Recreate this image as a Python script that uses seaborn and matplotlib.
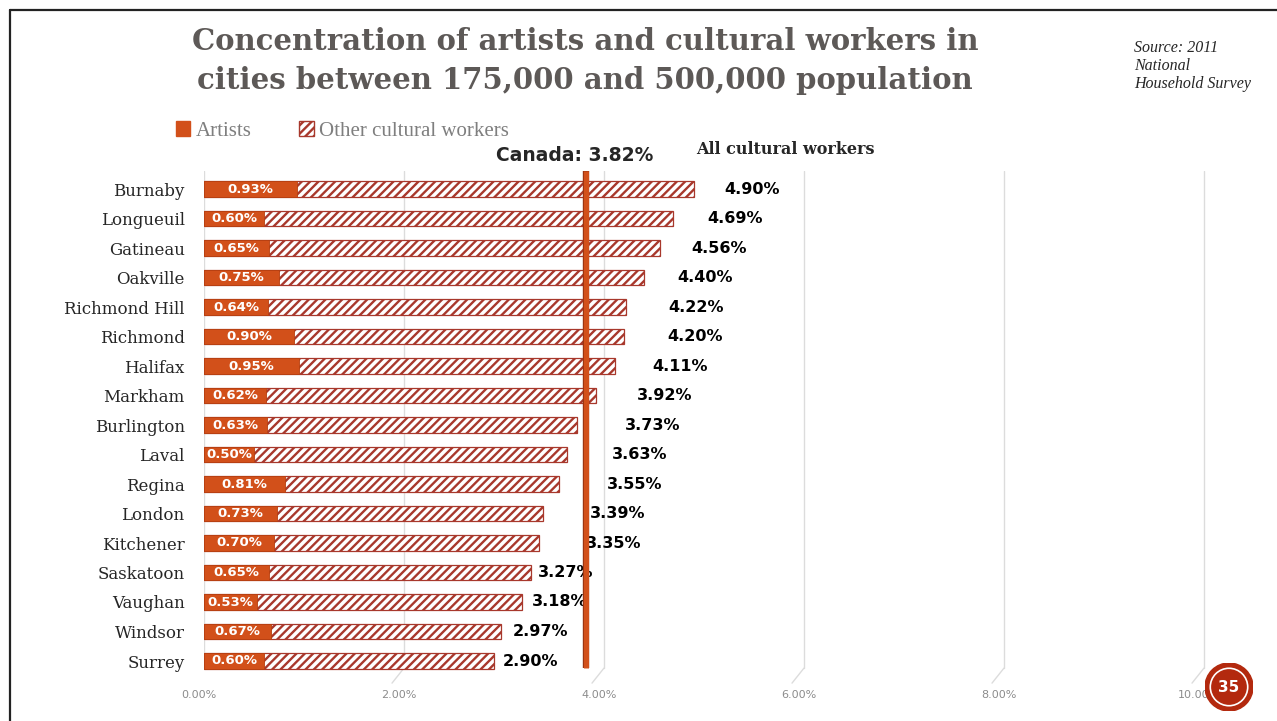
import matplotlib
matplotlib.use("Agg")
import matplotlib.pyplot as plt
import matplotlib.patheffects as pe
from matplotlib.patches import Patch, Circle
from matplotlib.lines import Line2D
from matplotlib.transforms import ScaledTranslation
import pandas as pd
import seaborn as sns

# data
cities = ["Burnaby", "Longueuil", "Gatineau", "Oakville", "Richmond Hill", "Richmond",
          "Halifax", "Markham", "Burlington", "Laval", "Regina", "London", "Kitchener",
          "Saskatoon", "Vaughan", "Windsor", "Surrey"]
artists = [0.93, 0.60, 0.65, 0.75, 0.64, 0.90, 0.95, 0.62, 0.63, 0.50, 0.81, 0.73,
           0.70, 0.65, 0.53, 0.67, 0.60]
all_cultural = [4.90, 4.69, 4.56, 4.40, 4.22, 4.20, 4.11, 3.92, 3.73, 3.63, 3.55, 3.39,
                3.35, 3.27, 3.18, 2.97, 2.90]
canada_avg = 3.82
x_ticks = [0, 2, 4, 6, 8, 10]

# gap between bar end and its total label (the original labels were hand-placed)
label_gap = [0.30, 0.34, 0.31, 0.33, 0.42, 0.43, 0.37, 0.41, 0.48, 0.45, 0.48, 0.47,
             0.47, 0.07, 0.10, 0.12, 0.09]

ARTIST_COLOR = "#d2501a"
OTHER_EDGE = "#a8382c"
GRID_COLOR = "#dcdcdc"

sns.set_style("white")
plt.rcParams["hatch.linewidth"] = 1.7
plt.rcParams["hatch.color"] = "#b04236"

df = pd.DataFrame({"city": cities, "artists": artists, "total": all_cultural})

W, H = 1277, 721
fig = plt.figure(figsize=(W / 100, H / 100), dpi=100)
ax = fig.add_axes([204 / W, 1 - 684.6 / H, 1030 / W, 513.3 / H])

# gridlines with the little 3D floor kink at the bottom
for t in x_ticks:
    ax.plot([t, t], [-0.6, 16.24], color=GRID_COLOR, lw=1, zorder=0)
    ax.plot([t, t - 0.12], [16.24, 16.75], color=GRID_COLOR, lw=1, zorder=0)

sns.barplot(data=df, y="city", x="total", order=cities, orient="h", color="white",
            saturation=1, edgecolor=OTHER_EDGE, linewidth=0.9, hatch="////",
            width=0.53, ax=ax, zorder=2)
sns.barplot(data=df, y="city", x="artists", order=cities, orient="h",
            color=ARTIST_COLOR, saturation=1, edgecolor="#b8400f", linewidth=0.6,
            width=0.53, ax=ax, zorder=3)

for i, (a, t, g) in enumerate(zip(artists, all_cultural, label_gap)):
    ax.text(a / 2, i, f"{a:.2f}%", color="white", fontweight="bold", fontsize=9.5,
            va="center", ha="center", zorder=4)
    ax.text(t + g, i, f"{t:.2f}%", color="black", fontweight="bold",
            fontsize=11.5, va="center", ha="left", zorder=4)

# national average line
ax.plot([canada_avg, canada_avg], [-0.6, 16.25], color=ARTIST_COLOR, lw=3.6,
        solid_capstyle="butt", zorder=5,
        path_effects=[pe.Stroke(linewidth=4.6, foreground="#9c3410"), pe.Normal()])
ax.text(canada_avg - 0.11, -1.15, f"Canada: {canada_avg:.2f}%", ha="center",
        va="center", fontsize=13.5, fontweight="bold", clip_on=False)
ax.text(5.81, -1.35, "All cultural workers", ha="center", va="center",
        fontsize=11.5, fontweight="bold", family="DejaVu Serif", clip_on=False)

ax.set_xlim(0, 10.3)
ax.set_ylim(16.8, -0.6)
ax.set_xticks(x_ticks)
ax.set_xticklabels([f"{t:.2f}%" for t in x_ticks], color="#8c8c8c", fontsize=8)
ax.tick_params(axis="x", length=0, pad=4)
ax.tick_params(axis="y", length=0, pad=14)
for lab in ax.get_xticklabels():
    lab.set_transform(lab.get_transform() + ScaledTranslation(-0.05, 0, fig.dpi_scale_trans))
for lab in ax.get_yticklabels():
    lab.set_family("DejaVu Serif")
    lab.set_fontsize(12)
ax.set_xlabel("")
ax.set_ylabel("")
for s in ax.spines.values():
    s.set_visible(False)
ax.patch.set_alpha(0)

# legend
handles = [Patch(facecolor=ARTIST_COLOR, edgecolor=ARTIST_COLOR, label="Artists"),
           Patch(facecolor="white", edgecolor=OTHER_EDGE, hatch="////",
                 label="Other cultural workers")]
leg = fig.legend(handles=handles, loc="center left", ncol=2, frameon=False,
                 bbox_to_anchor=(157 / W, 1 - 131 / H), handlelength=0.7,
                 handleheight=0.7, handletextpad=0.25, columnspacing=2.3,
                 prop={"family": "Liberation Serif", "size": 15})
for txt in leg.get_texts():
    txt.set_color("#7f7f7f")

# title and source
fig.text(585 / W, 1 - 61 / H,
         "Concentration of artists and cultural workers in\ncities between 175,000 and 500,000 population",
         ha="center", va="center", fontsize=21, fontweight="bold", color="#5d5957",
         family="DejaVu Serif", linespacing=1.42)
fig.text(1134 / W, 1 - 40 / H, "Source: 2011\nNational\nHousehold Survey", ha="left",
         va="top", fontsize=11.5, style="italic", family="Liberation Serif",
         linespacing=1.18)

# slide border
fig.add_artist(Line2D([10 / W, 10 / W], [0, 1 - 10 / H], color="#222222", lw=1.6))
fig.add_artist(Line2D([10 / W, 1], [1 - 10 / H, 1 - 10 / H], color="#222222", lw=1.6))

# page number badge
bx = fig.add_axes([1205 / W, 1 - 711 / H, 48 / W, 48 / H])
bx.set_xlim(-1, 1)
bx.set_ylim(-1, 1)
bx.set_aspect("equal")
bx.axis("off")
bx.add_patch(Circle((0, 0), 1, facecolor="#b3290e", edgecolor="#b3290e"))
bx.add_patch(Circle((0, 0), 0.78, facecolor="none", edgecolor="white", lw=1.2))
bx.text(0, 0, "35", color="white", fontweight="bold", fontsize=11, ha="center",
        va="center")

fig.savefig("out.png", dpi=100)
